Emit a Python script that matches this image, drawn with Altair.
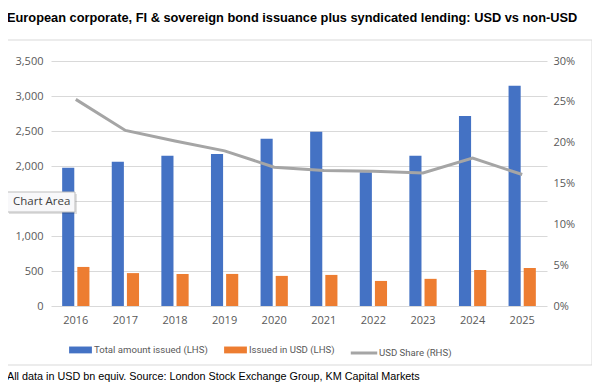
import altair as alt
import pandas as pd

years = ["2016", "2017", "2018", "2019", "2020", "2021", "2022", "2023", "2024", "2025"]
total_issued = [1975, 2060, 2145, 2170, 2390, 2490, 1910, 2145, 2715, 3145]
usd_issued = [558, 470, 457, 458, 430, 444, 358, 388, 514, 543]
usd_share = [0.253, 0.215, 0.202, 0.190, 0.170, 0.166, 0.165, 0.163, 0.181, 0.161]

series_names = ["Total amount issued (LHS)", "Issued in USD (LHS)"]
line_name = "USD Share (RHS)"
title_text = "European corporate, FI & sovereign bond issuance plus syndicated lending: USD vs non-USD"
footer_text = "All data in USD bn equiv.  Source: London Stock Exchange Group, KM Capital Markets"

bars_df = pd.DataFrame(
    [{"year": y, "series": series_names[0], "value": v} for y, v in zip(years, total_issued)]
    + [{"year": y, "series": series_names[1], "value": v} for y, v in zip(years, usd_issued)]
)
line_df = pd.DataFrame({"year": years, "share": usd_share, "s": [line_name] * len(years)})

AXIS_FONT = "Open Sans"
LEG_FONT = "Roboto"
GREY_TXT = "#595959"

x_enc = alt.X(
    "year:O",
    sort=years,
    title=None,
    scale=alt.Scale(paddingInner=0.45, paddingOuter=0.225),
    axis=alt.Axis(labelAngle=0, domain=False, ticks=False, labelPadding=8,
                  labelFont=AXIS_FONT, labelFontSize=11, labelColor=GREY_TXT),
)

bars = alt.Chart(bars_df).mark_bar().encode(
    x=x_enc,
    xOffset=alt.XOffset("series:N", sort=series_names, scale=alt.Scale(paddingInner=0.2, paddingOuter=0)),
    y=alt.Y(
        "value:Q",
        title=None,
        scale=alt.Scale(domain=[0, 3500], nice=False),
        axis=alt.Axis(orient="left", values=list(range(0, 3501, 500)),
                      labelExpr="datum.value == 1500 ? '' : format(datum.value, ',.0f')",
                      domain=False, ticks=False, grid=True, gridColor="#D9D9D9",
                      labelFont=AXIS_FONT, labelFontSize=11, labelColor=GREY_TXT, labelPadding=8),
    ),
    color=alt.Color(
        "series:N",
        sort=series_names,
        scale=alt.Scale(domain=series_names, range=["#4472C4", "#ED7D31"]),
        legend=alt.Legend(
            title=None, orient="none", direction="horizontal", legendX=18, legendY=277,
            symbolType="M-1,-0.3H1V0.3H-1Z", symbolSize=520, symbolStrokeWidth=0,
            labelFont=LEG_FONT, labelFontSize=9.6, labelColor=GREY_TXT,
            columnPadding=16, labelOffset=2, padding=0,
        ),
    ),
)

line = alt.Chart(line_df).mark_line(strokeWidth=3, strokeCap="butt").encode(
    x=alt.X("year:O", sort=years),
    y=alt.Y(
        "share:Q",
        title=None,
        scale=alt.Scale(domain=[0, 0.30], nice=False),
        axis=alt.Axis(orient="right", values=[0, 0.05, 0.10, 0.15, 0.20, 0.25, 0.30], format=".0%",
                      domain=False, ticks=False, grid=False,
                      labelFont=AXIS_FONT, labelFontSize=11, labelColor=GREY_TXT, labelPadding=6),
    ),
    color=alt.Color(
        "s:N",
        scale=alt.Scale(domain=[line_name], range=["#A5A5A5"]),
        legend=alt.Legend(
            title=None, orient="none", direction="horizontal", legendX=298, legendY=277,
            symbolType="stroke", symbolSize=700, symbolStrokeWidth=3,
            labelFont=LEG_FONT, labelFontSize=9.6, labelColor=GREY_TXT, labelOffset=0, padding=0,
        ),
    ),
)

one = pd.DataFrame({"t": [title_text], "f": [footer_text], "c": ["Chart Area"]})

border = alt.Chart(one).mark_rect(fill=None, stroke="#D9D9D9", strokeWidth=1).encode(
    x=alt.value(-46), x2=alt.value(541), y=alt.value(-21), y2=alt.value(304)
)

title = alt.Chart(one).mark_text(
    align="left", baseline="middle", font="Liberation Sans", fontWeight="bold", fontSize=12.8, color="#000000"
).encode(x=alt.value(-44), y=alt.value(-43), text="t:N")

footer = alt.Chart(one).mark_text(
    align="left", baseline="middle", font="Liberation Sans", fontSize=10.8, color="#000000"
).encode(x=alt.value(-44), y=alt.value(316), text="f:N")

tip_shadow = alt.Chart(one).mark_rect(fill="#000000", opacity=0.12).encode(
    x=alt.value(-42), x2=alt.value(26), y=alt.value(133), y2=alt.value(153)
)
tip_box = alt.Chart(one).mark_rect(fill="#F8F8FA", stroke="#BDBDBD", strokeWidth=1).encode(
    x=alt.value(-44), x2=alt.value(24), y=alt.value(131), y2=alt.value(151)
)
tip_text = alt.Chart(one).mark_text(
    align="left", baseline="middle", font=AXIS_FONT, fontSize=11.5, color="#404040"
).encode(x=alt.value(-38), y=alt.value(141), text="c:N")

chart = (
    alt.layer(border, bars, line, title, footer, tip_shadow, tip_box, tip_text)
    .resolve_scale(y="independent", color="independent")
    .properties(
        width=496,
        height=245,
        padding={"left": 43, "top": 53, "right": 45, "bottom": 77},
        autosize=alt.AutoSizeParams(type="none"),
        background="white",
    )
    .configure_view(stroke=None)
)

chart.save("out.html", embed_options={"renderer": "svg", "actions": False})
